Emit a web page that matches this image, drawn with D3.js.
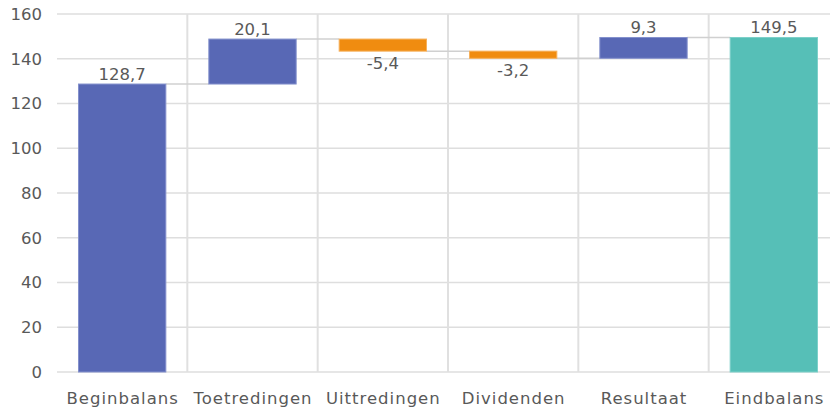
<!DOCTYPE html>
<html lang="en">
<head>
<meta charset="utf-8">
<title>Waterfall</title>
<script src="https://d3js.org/d3.v7.min.js"></script>
<style>
  body { margin: 0; background: #fff; }
  svg text { font-family: "DejaVu Sans", sans-serif; fill: #595959; }
</style>
</head>
<body>
<svg width="830" height="412"></svg>
<script>
// categories and values (waterfall steps)
var categories = ["Beginbalans", "Toetredingen", "Uittredingen", "Dividenden", "Resultaat", "Eindbalans"];
var values = [128.7, 20.1, -5.4, -3.2, 9.3, 149.5];
var kinds = ["total", "delta", "delta", "delta", "delta", "total"];
var labels = ["128,7", "20,1", "-5,4", "-3,2", "9,3", "149,5"];
var yTicks = [0, 20, 40, 60, 80, 100, 120, 140, 160];

var svg = d3.select("svg");

var plotLeft = 57, plotRight = 839, plotTop = 14, plotBottom = 372;

var x = d3.scaleBand()
    .domain(categories)
    .range([plotLeft, plotRight])
    .paddingInner(0.33)
    .paddingOuter(0.165);

var y = d3.scaleLinear()
    .domain([0, 160])
    .range([plotBottom, plotTop]);

// build start/end for each step
var run = 0;
var steps = categories.map(function(c, i) {
  var s, e;
  if (kinds[i] == "total") { s = 0; e = values[i]; run = values[i]; }
  else { s = run; e = run + values[i]; run = e; }
  return { cat: c, start: s, end: e, value: values[i], kind: kinds[i], label: labels[i] };
});

// horizontal grid
svg.append("g")
  .selectAll("line")
  .data(yTicks)
  .enter().append("line")
    .attr("x1", plotLeft).attr("x2", plotRight)
    .attr("y1", function(d) { return y(d); })
    .attr("y2", function(d) { return y(d); })
    .attr("stroke", "#dedede")
    .attr("stroke-width", 1.5);

// vertical grid between categories
var step = x.step();
svg.append("g")
  .selectAll("line")
  .data(categories.slice(1))
  .enter().append("line")
    .attr("x1", function(d) { return x(d) - x.paddingInner() * step / 2; })
    .attr("x2", function(d) { return x(d) - x.paddingInner() * step / 2; })
    .attr("y1", y(160)).attr("y2", y(0))
    .attr("stroke", "#e0e0e0")
    .attr("stroke-width", 2);

// connectors
svg.append("g")
  .selectAll("line")
  .data(steps.slice(0, -1))
  .enter().append("line")
    .attr("x1", function(d) { return x(d.cat) + x.bandwidth(); })
    .attr("x2", function(d, i) { return x(categories[i + 1]); })
    .attr("y1", function(d) { return y(d.end); })
    .attr("y2", function(d) { return y(d.end); })
    .attr("stroke", "#d0d0d0")
    .attr("stroke-width", 1.5);

function fillOf(d) {
  if (d.kind == "total") return d.cat == "Eindbalans" ? "#56bfb7" : "#5868b5";
  return d.value < 0 ? "#f08c10" : "#5868b5";
}
function strokeOf(d) {
  if (d.kind == "total") return d.cat == "Eindbalans" ? "#7dd0c9" : "#8390cc";
  return d.value < 0 ? "#f6b05a" : "#8390cc";
}

// bars
svg.append("g")
  .selectAll("rect")
  .data(steps)
  .enter().append("rect")
    .attr("x", function(d) { return x(d.cat); })
    .attr("width", x.bandwidth())
    .attr("y", function(d) { return y(Math.max(d.start, d.end)); })
    .attr("height", function(d) { return Math.abs(y(d.start) - y(d.end)); })
    .attr("fill", fillOf)
    .attr("stroke", strokeOf)
    .attr("stroke-width", 1);

// value labels
svg.append("g")
  .selectAll("text")
  .data(steps)
  .enter().append("text")
    .attr("x", function(d) { return x(d.cat) + x.bandwidth() / 2; })
    .attr("y", function(d) {
      return d.value < 0 ? y(Math.min(d.start, d.end)) + 18 : y(Math.max(d.start, d.end)) - 4;
    })
    .attr("text-anchor", "middle")
    .attr("font-size", 16.5)
    .text(function(d) { return d.label; });

// y axis labels
svg.append("g")
  .selectAll("text")
  .data(yTicks)
  .enter().append("text")
    .attr("x", 42)
    .attr("y", function(d) { return y(d); })
    .attr("dy", "0.35em")
    .attr("text-anchor", "end")
    .attr("font-size", 16.5)
    .text(function(d) { return d; });

// x axis labels
svg.append("g")
  .selectAll("text")
  .data(categories)
  .enter().append("text")
    .attr("x", function(d) { return x(d) + x.bandwidth() / 2 + 0.5; })
    .attr("y", 404)
    .attr("text-anchor", "middle")
    .attr("font-size", 16.5)
    .attr("letter-spacing", 1)
    .text(function(d) { return d; });
</script>
</body>
</html>
